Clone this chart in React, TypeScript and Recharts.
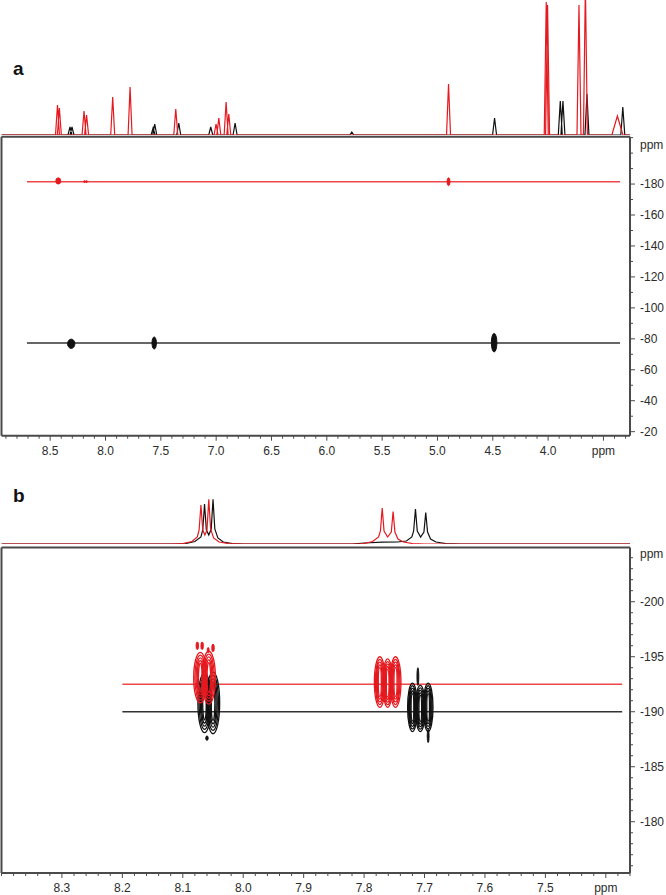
import { ComposedChart, ScatterChart, Scatter, Line, XAxis, YAxis, ReferenceLine } from 'recharts';

const RED = '#e5191f';
const RED_2D = '#ee4747';
const BLK = '#111111';
const BLK_2D = '#333333';
const AXIS = '#4a4a4a';
const TXT = '#2b2b2b';
const FONT = '"Liberation Sans", Arial, sans-serif';

// ---- panel a: 1H projections (ppm, height) ----
const A_RED_PEAKS: Array<[number, number, number?]> = [
  [8.434, 30], [8.417, 27], [8.194, 24], [8.171, 20], [7.935, 38], [7.778, 48], [7.365, 26],
  [7.001, 11], [6.976, 17], [6.91, 33], [6.886, 21], [4.9, 51], [4.017, 133], [4.005, 130],
  [3.721, 130], [3.663, 150], [3.374, 19, 0.05],
];
const A_BLK_PEAKS: Array<[number, number, number?]> = [
  [8.321, 8], [8.303, 8], [7.57, 7], [7.555, 11], [7.338, 12], [7.049, 8], [6.829, 12],
  [5.774, 3], [4.484, 17], [3.89, 34], [3.866, 34], [3.649, 41], [3.325, 28],
];

// ---- panel a: 2D cross peaks (ppm 1H, ppm 15N, half extents) ----
const A_RED_SPOTS = [
  { x: 8.427, y: -182, rx: 0.022, ry: 2.0 },
  { x: 8.19, y: -181.6, rx: 0.008, ry: 0.6 },
  { x: 8.172, y: -181.6, rx: 0.008, ry: 0.6 },
  { x: 4.9, y: -181.5, rx: 0.013, ry: 2.5 },
];
const A_BLK_SPOTS = [
  { x: 8.31, y: -76.8, rx: 0.033, ry: 3.0 },
  { x: 7.56, y: -77.3, rx: 0.02, ry: 3.9 },
  { x: 4.488, y: -77.5, rx: 0.025, ry: 6.0 },
];
const A_RED_LEVEL = -181.5;
const A_BLK_LEVEL = -77.3;
const A_LINE_FROM = 8.71;
const A_LINE_TO = 3.35;

const A_X_MAJOR = [8.5, 8.0, 7.5, 7.0, 6.5, 6.0, 5.5, 5.0, 4.5, 4.0, 3.5];
const A_Y_MAJOR = [-180, -160, -140, -120, -100, -80, -60, -40, -20];

// ---- panel b: 1H projections, traced (ppm, height) ----
const B_RED_TRACE: Array<[number, number]> = [
  [8.4, 0], [8.12, 0], [8.1, 0.5], [8.085, 2.5], [8.076, 7], [8.073, 14], [8.07, 39], [8.067, 14],
  [8.0635, 9], [8.06, 14], [8.057, 44.7], [8.054, 15], [8.049, 6], [8.04, 2], [8.025, 0.5], [8.0, 0],
  [7.81, 0], [7.8, 0.5], [7.786, 2.5], [7.776, 7], [7.773, 13], [7.77, 36], [7.767, 13], [7.761, 7],
  [7.755, 12], [7.752, 32.5], [7.749, 12], [7.744, 5], [7.735, 2], [7.72, 0.5], [7.7, 0], [7.36, 0],
];
const B_BLK_TRACE: Array<[number, number]> = [
  [8.4, 0], [8.11, 0], [8.095, 0.5], [8.08, 2.5], [8.07, 7], [8.067, 14], [8.064, 40], [8.061, 14],
  [8.057, 9], [8.053, 15], [8.05, 44.7], [8.047, 15], [8.042, 6], [8.033, 2], [8.018, 0.5], [8.0, 0],
  [7.82, 0], [7.8, 1], [7.77, 1.8], [7.745, 2], [7.73, 3], [7.721, 7], [7.718, 13], [7.715, 35],
  [7.712, 13], [7.7065, 7], [7.701, 12], [7.698, 31.5], [7.695, 12], [7.69, 5], [7.681, 2],
  [7.665, 0.5], [7.64, 0], [7.36, 0],
];

// ---- panel b: 2D contours ----
const B_RED_SPOTS = [
  { x: 8.071, y: -193.1, rx: 0.011, ry: 2.3 },
  { x: 8.057, y: -193.1, rx: 0.011, ry: 2.4 },
  { x: 8.076, y: -196.0, rx: 0.002, ry: 0.35 },
  { x: 8.068, y: -196.0, rx: 0.002, ry: 0.35 },
  { x: 8.058, y: -195.6, rx: 0.0015, ry: 0.25 },
  { x: 8.05, y: -195.8, rx: 0.002, ry: 0.35 },
  { x: 7.774, y: -192.7, rx: 0.009, ry: 2.3 },
  { x: 7.761, y: -192.6, rx: 0.008, ry: 2.2 },
  { x: 7.748, y: -192.7, rx: 0.009, ry: 2.3 },
];
const B_BLK_SPOTS = [
  { x: 8.064, y: -190.8, rx: 0.011, ry: 2.7 },
  { x: 8.05, y: -190.8, rx: 0.011, ry: 2.8 },
  { x: 8.06, y: -187.6, rx: 0.002, ry: 0.2 },
  { x: 7.72, y: -190.4, rx: 0.008, ry: 2.2 },
  { x: 7.707, y: -190.3, rx: 0.008, ry: 2.1 },
  { x: 7.694, y: -190.4, rx: 0.008, ry: 2.2 },
  { x: 7.711, y: -193.2, rx: 0.0015, ry: 0.8 },
  { x: 7.694, y: -187.8, rx: 0.0015, ry: 0.6 },
];
const B_RED_LEVEL = -192.5;
const B_BLK_LEVEL = -190.0;
const B_LINE_FROM = 8.2;
const B_LINE_TO = 7.373;

const B_X_MAJOR = [8.3, 8.2, 8.1, 8.0, 7.9, 7.8, 7.7, 7.6, 7.5, 7.4];
const B_Y_MAJOR = [-200, -195, -190, -185, -180];

// ---- axes / geometry ----
const A_X_DOMAIN: [number, number] = [3.26, 8.94];
const A_Y_DOMAIN: [number, number] = [-210.6, -17.4];
const B_X_DOMAIN: [number, number] = [7.36, 8.4];
const B_Y_DOMAIN: [number, number] = [-204.93, -175.34];
const PLOT_LEFT = 1.5;
const PLOT_RIGHT = 630;
const PLOT_W = PLOT_RIGHT - PLOT_LEFT;
const A_PLOT_H = 299;
const B_PLOT_H = 325.5;

const range = (from: number, to: number, step: number) => {
  const out: number[] = [];
  const n = Math.round((to - from) / step);
  for (let i = 0; i <= n; i++) out.push(+(from + i * step).toFixed(4));
  return out;
};
const has = (list: number[], v: number) => list.some((m) => Math.abs(m - v) < 1e-6);

const A_X_TICKS = range(3.3, 8.9, 0.1);
const A_Y_TICKS = [-205, ...range(-210, -20, 10)];
const A_Y_PPM = -205;
const B_X_TICKS = range(7.36, 8.4, 0.02).concat(B_X_MAJOR.filter((v) => !has(range(7.36, 8.4, 0.02), v)));
const B_Y_TICKS = [-204.3, ...range(-204, -176, 1)];
const B_Y_PPM = -204.3;

// peak list -> stick-like trace for the 1D projection
function peakTrace(peaks: Array<[number, number, number?]>, domain: [number, number], w = 0.018) {
  const pts = [{ x: domain[1], y: 0 }];
  [...peaks].sort((p, q) => q[0] - p[0]).forEach(([p, h, pw]) => {
    const hw = pw ?? w;
    pts.push({ x: p + hw, y: 0 }, { x: p, y: h }, { x: p - hw, y: 0 });
  });
  pts.push({ x: domain[0], y: 0 });
  return pts;
}
const toPts = (t: Array<[number, number]>) => t.map(([x, y]) => ({ x, y }));

const xTick = (majors: number[], ppmAt: number) => (props: any) => {
  const { x, y, payload } = props;
  const v = payload.value;
  const major = has(majors, v);
  return (
    <g>
      <line x1={x} x2={x} y1={y} y2={y + (major ? 5 : 3)} stroke={AXIS} strokeWidth={1} />
      {major && (
        <text x={x} y={y + 19} textAnchor="middle" fontSize={12} fill={TXT} fontFamily={FONT}>
          {Math.abs(v - ppmAt) < 1e-6 ? 'ppm' : v.toFixed(1)}
        </text>
      )}
    </g>
  );
};

const yTick = (majors: number[], ppmAt: number) => (props: any) => {
  const { x, y, payload } = props;
  const v = payload.value;
  if (Math.abs(v - ppmAt) < 1e-6) {
    return <text x={x + 10} y={y + 4} fontSize={12} fill={TXT} fontFamily={FONT}>ppm</text>;
  }
  const major = has(majors, v);
  return (
    <g>
      <line x1={x} x2={x + (major ? 5 : 3)} y1={y} y2={y} stroke={AXIS} strokeWidth={1} />
      {major && (
        <text x={x + 10} y={y + 4} fontSize={12} fill={TXT} fontFamily={FONT}>{v}</text>
      )}
    </g>
  );
};

// nested ellipses, sized in ppm through the panel's px/ppm factors
const RINGS = [1, 0.82, 0.64, 0.46, 0.28];
const contour = (color: string, kx: number, ky: number, filled: boolean, sw: number) => (props: any) => {
  const { cx, cy, payload } = props;
  const rx = Math.max(payload.rx * kx, 0.8);
  const ry = Math.max(payload.ry * ky, 0.8);
  if (filled || rx < 3) return <ellipse cx={cx} cy={cy} rx={rx} ry={ry} fill={color} stroke={color} strokeWidth={1} />;
  return (
    <g fill="none" stroke={color} strokeWidth={sw}>
      {RINGS.map((s) => (
        <ellipse key={s} cx={cx} cy={cy} rx={Math.max(rx * s, 0.6)} ry={Math.max(ry * (0.4 + 0.6 * s), 0.6)} />
      ))}
    </g>
  );
};

function Spectrum({ red, black, domain, yMax, height, top, bottom }: any) {
  return (
    <ComposedChart width={666} height={height} margin={{ top, right: 666 - PLOT_RIGHT, bottom, left: PLOT_LEFT }}>
      <XAxis type="number" dataKey="x" domain={domain} reversed hide allowDataOverflow />
      <YAxis type="number" domain={[0, yMax]} hide allowDataOverflow />
      <Line data={black} dataKey="y" type="linear" stroke={BLK} strokeWidth={1.2} dot={false} isAnimationActive={false} />
      <Line data={red} dataKey="y" type="linear" stroke={RED} strokeWidth={1.2} dot={false} isAnimationActive={false} />
    </ComposedChart>
  );
}

function Map2D(p: any) {
  const kx = PLOT_W / (p.xDomain[1] - p.xDomain[0]);
  const ky = p.plotH / (p.yDomain[1] - p.yDomain[0]);
  return (
    <ScatterChart width={666} height={p.height} margin={{ top: p.top, right: 0, bottom: 0, left: PLOT_LEFT }}>
      <XAxis type="number" dataKey="x" domain={p.xDomain} reversed allowDataOverflow ticks={p.xTicks} interval={0}
        height={p.xAxisH} tickSize={0} tickMargin={0} tickLine={false} axisLine={{ stroke: AXIS, strokeWidth: 2 }}
        tick={xTick(p.xMajor, p.xPpm)} />
      <YAxis type="number" dataKey="y" orientation="right" domain={p.yDomain} reversed allowDataOverflow ticks={p.yTicks}
        interval={0} width={666 - PLOT_RIGHT} tickSize={0} tickMargin={0} tickLine={false}
        axisLine={{ stroke: AXIS, strokeWidth: 2 }} tick={yTick(p.yMajor, p.yPpm)} />
      <ReferenceLine x={p.xDomain[1]} stroke={AXIS} strokeWidth={2} />
      <ReferenceLine y={p.yDomain[0]} stroke={AXIS} strokeWidth={2} />
      <ReferenceLine segment={[{ x: p.lineFrom, y: p.blkLevel }, { x: p.lineTo, y: p.blkLevel }]} stroke={BLK_2D} strokeWidth={1.6} />
      <ReferenceLine segment={[{ x: p.lineFrom, y: p.redLevel }, { x: p.lineTo, y: p.redLevel }]} stroke={RED_2D} strokeWidth={1.6} />
      <Scatter data={p.blkSpots} shape={contour(BLK, kx, ky, p.filled, 1.3)} isAnimationActive={false} />
      <Scatter data={p.redSpots} shape={contour(RED, kx, ky, p.filled, 1.3)} isAnimationActive={false} />
    </ScatterChart>
  );
}

const abs = (top: number): React.CSSProperties => ({ position: 'absolute', left: 0, top });
const panelLabel = (top: number): React.CSSProperties => ({
  position: 'absolute', left: 13, top, fontSize: 19, fontWeight: 'bold', color: '#111', fontFamily: FONT,
});

export default function App() {
  return (
    <div style={{ position: 'absolute', left: 0, top: 0, width: 666, height: 895, background: '#fff', overflow: 'hidden', fontFamily: FONT }}>
      <div style={panelLabel(58)}>a</div>
      <div style={abs(0)}>
        <Spectrum red={peakTrace(A_RED_PEAKS, A_X_DOMAIN)} black={peakTrace(A_BLK_PEAKS, A_X_DOMAIN)}
          domain={A_X_DOMAIN} yMax={135} height={140} top={0} bottom={5} />
      </div>
      <div style={abs(120)}>
        <Map2D height={350} top={16.7} xAxisH={34.3} plotH={A_PLOT_H}
          xDomain={A_X_DOMAIN} yDomain={A_Y_DOMAIN} xTicks={A_X_TICKS} yTicks={A_Y_TICKS}
          xMajor={A_X_MAJOR} yMajor={A_Y_MAJOR} xPpm={3.5} yPpm={A_Y_PPM}
          lineFrom={A_LINE_FROM} lineTo={A_LINE_TO} redLevel={A_RED_LEVEL} blkLevel={A_BLK_LEVEL}
          redSpots={A_RED_SPOTS} blkSpots={A_BLK_SPOTS} filled />
      </div>

      <div style={panelLabel(485)}>b</div>
      <div style={abs(480)}>
        <Spectrum red={toPts(B_RED_TRACE)} black={toPts(B_BLK_TRACE)} domain={B_X_DOMAIN} yMax={54}
          height={70} top={10} bottom={6} />
      </div>
      <div style={abs(530)}>
        <Map2D height={365} top={17.5} xAxisH={22} plotH={B_PLOT_H}
          xDomain={B_X_DOMAIN} yDomain={B_Y_DOMAIN} xTicks={B_X_TICKS} yTicks={B_Y_TICKS}
          xMajor={B_X_MAJOR} yMajor={B_Y_MAJOR} xPpm={7.4} yPpm={B_Y_PPM}
          lineFrom={B_LINE_FROM} lineTo={B_LINE_TO} redLevel={B_RED_LEVEL} blkLevel={B_BLK_LEVEL}
          redSpots={B_RED_SPOTS} blkSpots={B_BLK_SPOTS} filled={false} />
      </div>
    </div>
  );
}
